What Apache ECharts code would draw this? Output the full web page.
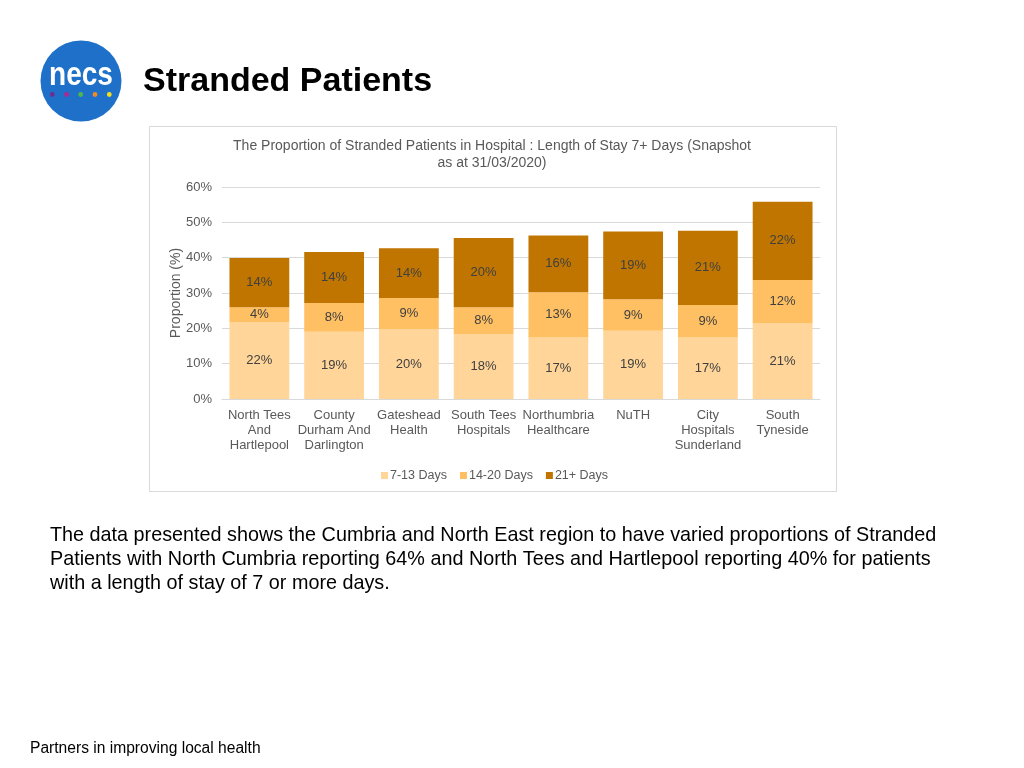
<!DOCTYPE html>
<html>
<head>
<meta charset="utf-8">
<script src="https://cdn.jsdelivr.net/npm/echarts@6/dist/echarts.min.js"></script>
<style>html,body{margin:0;padding:0;background:#fff;}#c{width:1024px;height:768px;}</style>
</head>
<body>
<div id="c"></div>
<script>
var categories = ['North Tees\nAnd\nHartlepool','County\nDurham And\nDarlington','Gateshead\nHealth','South Tees\nHospitals','Northumbria\nHealthcare','NuTH','City\nHospitals\nSunderland','South\nTyneside'];
var days7to13 = [21.8, 19.0, 19.8, 18.4, 17.4, 19.3, 17.4, 21.4];
var days14to20 = [4.2, 8.2, 8.8, 7.6, 12.8, 8.9, 9.2, 12.3];
var days21plus = [13.9, 14.4, 14.1, 19.6, 16.1, 19.2, 21.0, 22.1];
var seriesNames = ['7-13 Days','14-20 Days','21+ Days'];
var colors = ['#FFD599','#FFBF63','#BF7500'];
var FONT = "'Liberation Sans', Arial, sans-serif";

var chart = echarts.init(document.getElementById('c'));
function lbl(){
  return {show:true, position:'inside', color:'#404040', fontSize:13, fontFamily:FONT,
    formatter:function(p){return Math.round(p.value)+'%';}};
}
var data = [days7to13, days14to20, days21plus];
var series = data.map(function(d,i){
  return {name:seriesNames[i], type:'bar', stack:'s', data:d, barCategoryGap:'20%',
    itemStyle:{color:colors[i]}, label:lbl(), emphasis:{disabled:true}};
});
var dots = [['#6B2D90',52.3],['#B4268F',66.7],['#4DB848',80.7],['#F08A24',95],['#F5DF1A',109.3]];
var graphics = [
  {type:'rect', shape:{x:149.5,y:126.5,width:687,height:365}, style:{fill:'#fff',stroke:'#d9d9d9',lineWidth:1}, z:-10},
  {type:'circle', shape:{cx:81,cy:81,r:40.5}, style:{fill:'#1E70C8'}},
  {type:'text', x:81, y:76, scaleX:0.85, style:{text:'necs', fill:'#fff', font:"bold 33px "+FONT, align:'center', verticalAlign:'middle'}},
  {type:'text', x:492, y:146.5, style:{text:'The Proportion of Stranded Patients in Hospital : Length of Stay 7+ Days (Snapshot', fill:'#595959', font:"14px "+FONT, align:'center', verticalAlign:'middle'}},
  {type:'text', x:492, y:163.5, style:{text:'as at 31/03/2020)', fill:'#595959', font:"14px "+FONT, align:'center', verticalAlign:'middle'}},
  {type:'text', x:143, y:82, style:{text:'Stranded Patients', fill:'#000', font:"bold 34px "+FONT, align:'left', verticalAlign:'middle'}},
  {type:'text', x:50, y:536, style:{text:'The data presented shows the Cumbria and North East region to have varied proportions of Stranded', fill:'#000', font:"19.8px "+FONT, align:'left', verticalAlign:'middle'}},
  {type:'text', x:50, y:560, style:{text:'Patients with North Cumbria reporting 64% and North Tees and Hartlepool reporting 40% for patients', fill:'#000', font:"19.8px "+FONT, align:'left', verticalAlign:'middle'}},
  {type:'text', x:50, y:584, style:{text:'with a length of stay of 7 or more days.', fill:'#000', font:"19.8px "+FONT, align:'left', verticalAlign:'middle'}},
  {type:'text', x:30, y:748.5, style:{text:'Partners in improving local health', fill:'#000', font:"15.6px "+FONT, align:'left', verticalAlign:'middle'}}
];
dots.forEach(function(d){graphics.push({type:'circle', shape:{cx:d[1],cy:94.5,r:2.4}, style:{fill:d[0]}});});

chart.setOption({
  animation:false,
  textStyle:{fontFamily:FONT},
  grid:{left:222, right:204, top:187, bottom:369, containLabel:false},
  legend:{data:seriesNames, top:464, left:376, itemWidth:7, itemHeight:7, itemGap:13, icon:'rect',
    textStyle:{color:'#595959', fontSize:12.5, fontFamily:FONT, padding:[0,0,0,-3]}},
  xAxis:{type:'category', data:categories, axisTick:{show:false},
    axisLine:{lineStyle:{color:'#d9d9d9'}},
    axisLabel:{color:'#595959', fontSize:13, lineHeight:15, interval:0, margin:9, fontFamily:FONT}},
  yAxis:{type:'value', min:0, max:60, interval:10,
    name:'Proportion (%)', nameLocation:'middle', nameRotate:90, nameGap:39, nameMoveOverlap:false,
    nameTextStyle:{color:'#595959', fontSize:14, fontFamily:FONT},
    axisLabel:{formatter:'{value}%', color:'#595959', fontSize:13, margin:10, fontFamily:FONT},
    splitLine:{lineStyle:{color:'#d9d9d9'}}, axisLine:{show:false}, axisTick:{show:false}},
  series:series,
  graphic:graphics
});
</script>
</body>
</html>
